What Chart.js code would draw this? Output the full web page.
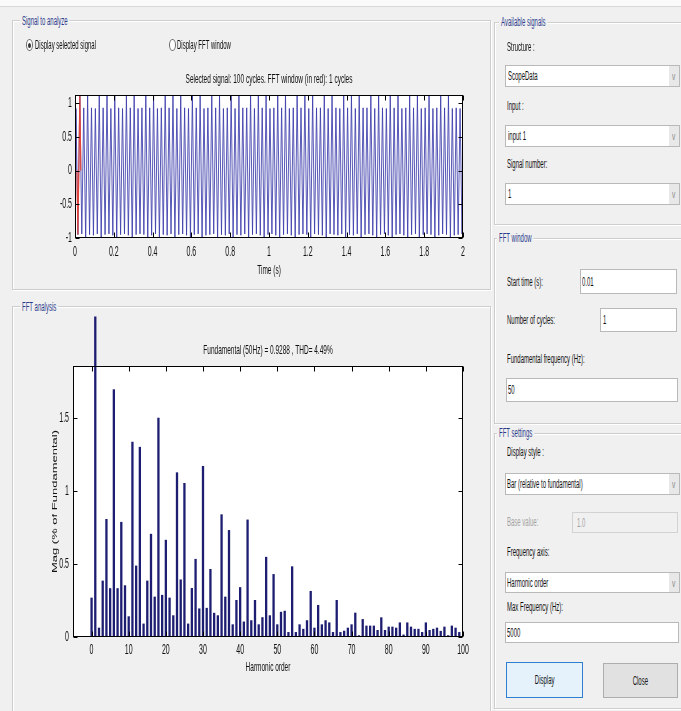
<!DOCTYPE html>
<html>
<head>
<meta charset="utf-8">
<script src="https://cdn.jsdelivr.net/npm/chart.js@4.4.1/dist/chart.umd.min.js"></script>
<style>
  body{margin:0;width:681px;height:711px;background:#f0f0f0;position:relative;overflow:hidden;font-family:"Liberation Sans",Arial,sans-serif}
  .strip{position:absolute;left:0;top:0;width:681px;height:6px;background:#fafafa;border-bottom:1px solid #d9d9d9}
  .frame{position:absolute;border:1px solid #cdcdcd;box-shadow:inset 1px 1px 0 #fff,1px 1px 0 #fff}
  .t{position:absolute;font-size:12px;line-height:14px;height:14px;white-space:nowrap;transform:scaleX(0.5);transform-origin:0 50%;color:#111}
  .ft{background:#f0f0f0;color:#2b3b8c;padding:0 4px}
  .box{position:absolute;background:#fff;border:1px solid #b9b9b9;box-sizing:border-box}
  .arrow{position:absolute;right:0;top:0;bottom:0;width:10px;background:#e8e8e8;display:flex;align-items:center;justify-content:center}
  .arrow span{font-size:11px;color:#888;transform:scaleX(0.6)}
  .gray{color:#a3a3a3}
  .btn{position:absolute;box-sizing:border-box;display:flex;align-items:center;justify-content:center}
  .btn span{font-size:12px;color:#111;transform:scaleX(0.5);white-space:nowrap}
  .radio{position:absolute;width:7px;height:12px;border-radius:50%;border:1px solid #6a6a6a;box-sizing:border-box;background:#fff}
  .radio.on::after{content:"";position:absolute;left:1px;top:2.5px;width:3px;height:5px;border-radius:50%;background:#333}
  canvas{position:absolute;left:0}
</style>
</head>
<body>
<div class="strip"></div>

<!-- left panels -->
<div class="frame" style="left:12px;top:20px;width:477px;height:268px"></div>
<div class="frame" style="left:12px;top:306px;width:477px;height:420px"></div>

<!-- right panels -->
<div class="frame" style="left:494px;top:22px;width:200px;height:201px"></div>
<div class="frame" style="left:494px;top:238px;width:200px;height:184px"></div>
<div class="frame" style="left:494px;top:433px;width:200px;height:274px"></div>

<canvas id="c1" width="490" height="240" style="top:50px"></canvas>
<canvas id="c2" width="490" height="400" style="top:300px"></canvas>

<div class="t ft" style="left:20px;top:13.7px">Signal to analyze</div>
<div class="t ft" style="left:20px;top:299.7px">FFT analysis</div>
<div class="t ft" style="left:499px;top:14.5px">Available signals</div>
<div class="t ft" style="left:497px;top:231px">FFT window</div>
<div class="t ft" style="left:497px;top:426px">FFT settings</div>

<div class="radio on" style="left:26px;top:39px"></div>
<div class="t" style="left:35px;top:38px">Display selected signal</div>
<div class="radio" style="left:169px;top:39px"></div>
<div class="t" style="left:177px;top:38px">Display FFT window</div>

<!-- Available signals -->
<div class="t" style="left:507px;top:40px">Structure :</div>
<div class="box" style="left:505px;top:65px;width:175px;height:22px"><div class="arrow"><span>v</span></div></div>
<div class="t" style="left:508px;top:69px">ScopeData</div>
<div class="t" style="left:507px;top:99px">Input :</div>
<div class="box" style="left:505px;top:125px;width:175px;height:22px"><div class="arrow"><span>v</span></div></div>
<div class="t" style="left:508px;top:129px">input 1</div>
<div class="t" style="left:507px;top:157px">Signal number:</div>
<div class="box" style="left:505px;top:183px;width:175px;height:22px"><div class="arrow"><span>v</span></div></div>
<div class="t" style="left:508px;top:187px">1</div>

<!-- FFT window -->
<div class="t" style="left:507px;top:275px">Start time (s):</div>
<div class="box" style="left:580px;top:269px;width:97px;height:25px"></div>
<div class="t" style="left:582px;top:275px">0.01</div>
<div class="t" style="left:507px;top:313px">Number of cycles:</div>
<div class="box" style="left:600px;top:308px;width:77px;height:24px"></div>
<div class="t" style="left:603px;top:313px">1</div>
<div class="t" style="left:507px;top:351.5px">Fundamental frequency (Hz):</div>
<div class="box" style="left:506px;top:378px;width:172px;height:24px"></div>
<div class="t" style="left:508px;top:383px">50</div>

<!-- FFT settings -->
<div class="t" style="left:507px;top:445px">Display style :</div>
<div class="box" style="left:505px;top:473px;width:175px;height:22px"><div class="arrow"><span>v</span></div></div>
<div class="t" style="left:507px;top:477px">Bar (relative to fundamental)</div>
<div class="t gray" style="left:507px;top:515px">Base value:</div>
<div class="box" style="left:572px;top:512px;width:106px;height:21px;background:#f0f0f0;border-color:#d2d2d2"></div>
<div class="t gray" style="left:577px;top:516px">1.0</div>
<div class="t" style="left:507px;top:545px">Frequency axis:</div>
<div class="box" style="left:505px;top:572px;width:175px;height:21px"><div class="arrow"><span>v</span></div></div>
<div class="t" style="left:507px;top:576px">Harmonic order</div>
<div class="t" style="left:507px;top:600px">Max Frequency (Hz):</div>
<div class="box" style="left:505px;top:622px;width:174px;height:21px"></div>
<div class="t" style="left:507px;top:626px">5000</div>

<div class="btn" style="left:506px;top:662px;width:77px;height:36px;background:#e5f1fb;border:1px solid #2f7fd0"><span>Display</span></div>
<div class="btn" style="left:603px;top:663px;width:75px;height:35px;background:#e1e1e1;border:1px solid #adadad"><span>Close</span></div>

<script>
// ---------- DATA ----------
// Signal to analyze: peak values of each 50 Hz cycle (100 cycles, 0..2 s)
const fundamentalHz = 50;
const posPeaks = [
  0.92,1.11,0.93,1.11,0.93,0.92,1.11,0.93,1.11,0.92,
  1.11,0.93,0.92,1.11,0.93,1.11,0.92,0.93,1.11,0.93,
  1.11,0.92,0.93,1.11,0.93,1.11,0.92,1.11,0.93,0.92,
  1.11,0.93,1.11,0.92,0.93,1.11,0.93,1.11,0.92,0.93,
  1.11,0.92,1.11,0.93,0.93,1.11,0.92,1.11,0.93,1.11,
  0.92,0.93,1.11,0.93,1.11,0.92,0.93,1.11,0.93,1.11,
  0.92,1.11,0.93,0.93,1.11,0.92,1.11,0.93,0.92,1.11,
  0.93,1.11,0.92,1.11,0.93,0.93,1.11,0.92,1.11,0.93,
  0.92,1.11,0.93,1.11,0.92,0.93,1.11,0.93,1.11,0.92,
  0.93,1.11,0.92,0.93,1.11,0.93,1.11,0.92,0.93,0.92
];
const negPeaks = [
  -0.95,-0.94,-1.02,-0.95,-0.96,-0.94,-1.02,-0.95,-0.94,-0.96,
  -1.02,-0.95,-0.94,-0.96,-1.02,-0.95,-0.94,-0.95,-1.02,-0.96,
  -0.94,-1.02,-0.95,-0.96,-0.94,-1.02,-0.95,-0.94,-0.96,-1.02,
  -0.95,-0.94,-1.02,-0.96,-0.95,-0.94,-1.02,-0.95,-0.96,-0.94,
  -1.02,-0.95,-0.96,-0.94,-1.02,-0.95,-0.94,-0.96,-1.02,-0.95,
  -0.94,-0.96,-1.02,-0.95,-0.94,-0.96,-1.02,-0.95,-0.94,-0.95,
  -1.02,-0.94,-0.95,-0.96,-1.02,-0.94,-0.95,-0.96,-0.94,-1.02,
  -0.95,-0.96,-0.94,-1.02,-0.95,-0.94,-0.96,-1.02,-0.95,-0.94,
  -0.96,-1.02,-0.95,-0.94,-0.96,-1.02,-0.95,-0.94,-1.02,-0.95,
  -0.94,-0.95,-1.02,-0.96,-0.94,-0.95,-1.02,-0.96,-0.95,-0.94
];
const fftWindowStart = 0.01;   // s
const fftWindowCycles = 1;

// FFT analysis: harmonic order and magnitude (% of fundamental)
const harmonicOrders = Array.from({length: 101}, (_, i) => i);
const magnitudes = [
  0.27, 2.2, 0.064, 0.387, 0.81, 0.335, 1.70, 0.335, 0.79, 0.355,
  0.142, 1.34, 0.49, 1.305, 0.092, 0.387, 0.708, 0.277, 1.505, 0.289,
  0.667, 0.27, 0.149, 1.13, 0.395, 1.057, 0.092, 0.336, 0.536, 0.196,
  1.174, 0.2, 0.467, 0.166, 0.149, 0.842, 0.277, 0.734, 0.087, 0.254,
  0.342, 0.106, 0.806, 0.115, 0.254, 0.087, 0.136, 0.55, 0.149, 0.432,
  0.087, 0.173, 0.18, 0.034, 0.485, 0.034, 0.087, 0.056, 0.115, 0.316,
  0.064, 0.22, 0.087, 0.115, 0.1, 0.034, 0.254, 0.034, 0.043, 0.064,
  0.087, 0.167, 0.012, 0.123, 0.078, 0.078, 0.078, 0.048, 0.135, 0.048,
  0.071, 0.071, 0.064, 0.1, 0.017, 0.1, 0.071, 0.056, 0.056, 0.034,
  0.1, 0.048, 0.056, 0.064, 0.042, 0.071, 0.012, 0.078, 0.064, 0.034,
  0
];
const timeTicks = {min: 0, max: 2, step: 0.2};
const signalTicks = {min: -1, max: 1.12, step: 0.5};
const harmTicks = {min: -5, max: 100, step: 10};
const magTicks = {min: 0, max: 1.86, step: 0.5};

const topTitle = 'Selected signal: 100 cycles. FFT window (in red): 1 cycles';
const bottomTitle = 'Fundamental (50Hz) = 0.9288 , THD= 4.49%';

// ---------- BUILD SERIES ----------
const T = 1 / fundamentalHz;
const signalPts = [{x: 0, y: 0}];
posPeaks.forEach((p, k) => {
  signalPts.push({x: (k + 0.25) * T, y: p});
  signalPts.push({x: (k + 0.75) * T, y: negPeaks[k]});
});
signalPts.push({x: posPeaks.length * T, y: 0});
const wEnd = fftWindowStart + fftWindowCycles * T;
const windowPts = [{x: fftWindowStart, y: 0}]
  .concat(signalPts.filter(p => p.x > fftWindowStart && p.x < wEnd))
  .concat([{x: wEnd, y: 0}]);
const barPts = harmonicOrders.map((h, i) => ({x: h, y: magnitudes[i]}));

// ---------- PLUGINS ----------
const SQ = 0.5;
const squeezePlugin = {
  id: 'squeeze',
  beforeInit(chart) {
    const ctx = chart.ctx;
    if (ctx.__sq) return;
    ctx.__sq = true;
    const orig = ctx.fillText.bind(ctx);
    ctx.fillText = function (text, x, y, mw) {
      const m = ctx.getTransform();
      const p = m.transformPoint(new DOMPoint(x, y));
      const s = new DOMMatrix().translate(p.x, p.y).scale(SQ, 1).translate(-p.x, -p.y).multiply(m);
      ctx.setTransform(s);
      if (mw === undefined) orig(text, x, y); else orig(text, x, y, mw / SQ);
      ctx.setTransform(m);
    };
  }
};
const whiteBg = {
  id: 'whiteBg',
  beforeDraw(chart) {
    const {ctx, chartArea: a} = chart;
    ctx.save();
    ctx.fillStyle = '#ffffff';
    ctx.fillRect(a.left, a.top, a.right - a.left, a.bottom - a.top);
    ctx.restore();
  }
};
const matlabBox = {
  id: 'matlabBox',
  afterDraw(chart) {
    const {ctx, chartArea: a, scales: {x, y}} = chart;
    const L = Math.round(a.left) + 0.5, R = Math.round(a.right) - 0.5;
    const Tp = Math.round(a.top) + 0.5, B = Math.round(a.bottom) - 0.5;
    ctx.save();
    ctx.strokeStyle = '#000';
    ctx.lineWidth = 1;
    ctx.beginPath();
    x.ticks.forEach(t => {
      const px = Math.round(x.getPixelForValue(t.value)) + 0.5;
      ctx.moveTo(px, B); ctx.lineTo(px, B - 5);
      ctx.moveTo(px, Tp); ctx.lineTo(px, Tp + 5);
    });
    y.ticks.forEach(t => {
      const py = Math.round(y.getPixelForValue(t.value)) + 0.5;
      ctx.moveTo(L, py); ctx.lineTo(L + 4, py);
      ctx.moveTo(R, py); ctx.lineTo(R - 4, py);
    });
    ctx.stroke();
    ctx.strokeRect(L, Tp, R - L, B - Tp);
    ctx.restore();
  }
};

const FAM = '"Liberation Sans", Arial, sans-serif';
const tickFont = {family: FAM, size: 14};
const labFont = {family: FAM, size: 13};
const fmt = v => String(Number(Number(v).toFixed(3)));

// ---------- TOP CHART ----------
new Chart(document.getElementById('c1'), {
  type: 'line',
  data: {datasets: [
    {data: windowPts, borderColor: '#e2443c', borderWidth: 1.2, pointRadius: 0, tension: 0, order: 1},
    {data: signalPts, borderColor: 'rgba(60,60,172,0.85)', borderWidth: 1, pointRadius: 0, tension: 0, order: 2}
  ]},
  options: {
    responsive: false, animation: false,
    layout: {padding: {left: 0, right: 27, top: 0, bottom: 12.2}},
    plugins: {
      legend: {display: false}, tooltip: {enabled: false},
      title: {display: true, text: topTitle, fullSize: false, color: '#111',
        font: {family: FAM, size: 13, weight: 'normal'}, padding: {top: 21.2, bottom: 8.2}}
    },
    scales: {
      x: {type: 'linear', min: timeTicks.min, max: timeTicks.max,
        ticks: {stepSize: timeTicks.step, includeBounds: false, autoSkip: false, maxRotation: 0, padding: 6, color: '#111', font: tickFont, callback: fmt},
        grid: {display: false, drawTicks: false}, border: {display: false},
        title: {display: true, text: 'Time (s)', color: '#111', font: labFont, padding: {top: 0, bottom: 0}},
        afterFit(s) { s.height = 39.8; }},
      y: {type: 'linear', min: signalTicks.min, max: signalTicks.max,
        ticks: {stepSize: signalTicks.step, includeBounds: false, autoSkip: false, padding: 3, color: '#111', font: tickFont, callback: fmt},
        grid: {display: false, drawTicks: false}, border: {display: false},
        afterFit(s) { s.width = 75; }}
    }
  },
  plugins: [squeezePlugin, whiteBg, matlabBox]
});

// ---------- BOTTOM CHART ----------
new Chart(document.getElementById('c2'), {
  type: 'bar',
  data: {datasets: [{
    data: barPts, backgroundColor: '#1d1d72', borderWidth: 0,
    barPercentage: 0.62, categoryPercentage: 1,
    clip: {left: 0, right: 0, bottom: 0, top: false}
  }]},
  options: {
    responsive: false, animation: false,
    layout: {padding: {left: 0, right: 27, top: 0, bottom: 24.6}},
    plugins: {
      legend: {display: false}, tooltip: {enabled: false},
      title: {display: true, text: bottomTitle, fullSize: false, color: '#111',
        font: {family: FAM, size: 13, weight: 'normal'}, padding: {top: 42.2, bottom: 8.2}}
    },
    scales: {
      x: {type: 'linear', min: harmTicks.min, max: harmTicks.max, offset: false,
        ticks: {stepSize: harmTicks.step, includeBounds: false, autoSkip: false, maxRotation: 0, padding: 5, color: '#111', font: tickFont, callback: fmt},
        grid: {display: false, drawTicks: false, offset: false}, border: {display: false},
        title: {display: true, text: 'Harmonic order', color: '#111', font: labFont, padding: {top: 0, bottom: 0}},
        afterFit(s) { s.height = 38.4; }},
      y: {type: 'linear', min: magTicks.min, max: magTicks.max,
        ticks: {stepSize: magTicks.step, includeBounds: false, autoSkip: false, padding: 4, color: '#111', font: tickFont, callback: fmt},
        grid: {display: false, drawTicks: false}, border: {display: false},
        title: {display: true, text: 'Mag (% of Fundamental)', color: '#111', font: labFont, padding: {top: 47.7, bottom: 0}},
        afterFit(s) { s.width = 73; }}
    }
  },
  plugins: [squeezePlugin, whiteBg, matlabBox]
});
</script>
</body>
</html>
